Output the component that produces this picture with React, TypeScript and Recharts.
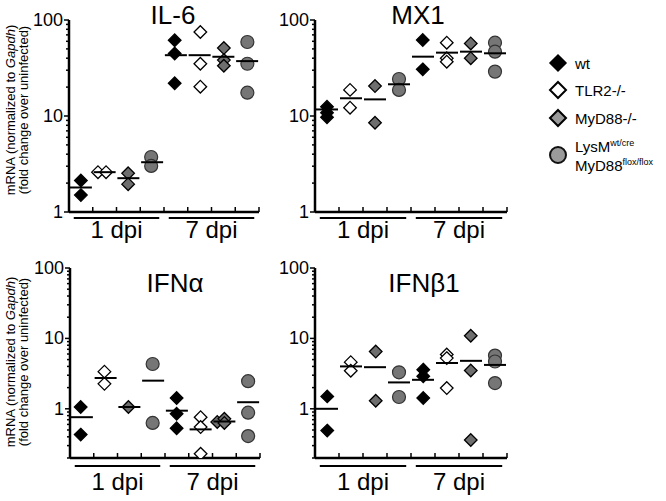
import { ScatterChart, Scatter, XAxis, YAxis } from 'recharts';

const FONT = '"Liberation Sans", Arial, Helvetica, sans-serif';

// x positions are in category units: 0..4 = 1 dpi, 4..8 = 7 dpi, one slot per genotype
const DAYS = ['1 dpi', '7 dpi'];
const X_TICKS = [0, 1, 2, 3, 4, 5, 6, 7, 8];
const MEDIAN_X = [0.5, 1.5, 2.5, 3.5, 4.5, 5.5, 6.5, 7.5];

const Y_TICKS_TOP = [1, 2, 3, 4, 5, 6, 7, 8, 9, 10, 20, 30, 40, 50, 60, 70, 80, 90, 100];
const Y_TICKS_BOTTOM = [
  0.2, 0.3, 0.4, 0.5, 0.6, 0.7, 0.8, 0.9,
  1, 2, 3, 4, 5, 6, 7, 8, 9, 10, 20, 30, 40, 50, 60, 70, 80, 90, 100,
];

// IL-6
const IL6_WT = [[0.5, 2.13], [0.5, 1.5], [4.45, 61.6], [4.45, 44.8], [4.45, 21.9]];
const IL6_TLR2 = [[1.22, 2.6], [1.56, 2.6], [5.53, 75], [5.53, 35], [5.53, 20.2]];
const IL6_MYD88 = [[2.49, 2.53], [2.49, 1.95], [6.52, 51], [6.52, 38.2], [6.52, 33.4]];
const IL6_LYSM = [[3.46, 3.74], [3.46, 3.02], [7.51, 59], [7.51, 35], [7.51, 17.5]];
const IL6_MED = [1.8, 2.6, 2.25, 3.3, 43, 43, 41.4, 37.3];

// MX1
const MX1_WT = [[0.5, 12.5], [0.5, 10.8], [0.5, 9.7], [4.49, 62], [4.49, 30.6]];
const MX1_TLR2 = [[1.46, 18.7], [1.46, 12.2], [5.49, 58], [5.49, 39.9], [5.49, 36.8]];
const MX1_MYD88 = [[2.5, 20.5], [2.5, 8.5], [6.49, 57], [6.49, 40]];
const MX1_LYSM = [[3.5, 24.3], [3.5, 18.7], [7.5, 58], [7.5, 46.8], [7.5, 29]];
const MX1_MED = [11.7, 15.3, 14.9, 21.4, 41.5, 45.7, 46.8, 45];

// IFNa
const IFNA_WT = [[0.45, 1.06], [0.45, 0.43], [4.49, 1.42], [4.49, 0.85], [4.49, 0.53]];
const IFNA_TLR2 = [[1.45, 3.37], [1.45, 2.26], [5.5, 0.76], [5.5, 0.55], [5.5, 0.23]];
const IFNA_MYD88 = [[2.46, 1.06], [6.2, 0.65], [6.5, 0.72], [6.5, 0.63]];
const IFNA_LYSM = [[3.48, 4.33], [3.48, 0.63], [7.5, 2.47], [7.5, 0.88], [7.5, 0.41]];
const IFNA_MED = [0.76, 2.74, 1.06, 2.51, 0.94, 0.51, 0.66, 1.24];

// IFNb1
const IFNB_WT = [[0.51, 1.5], [0.51, 0.49], [4.51, 3.6], [4.51, 2.9], [4.51, 1.42]];
const IFNB_TLR2 = [[1.49, 4.6], [1.49, 3.47], [5.49, 5.9], [5.49, 5.25], [5.49, 1.97]];
const IFNB_MYD88 = [[2.53, 6.5], [2.53, 1.3], [6.49, 10.9], [6.49, 3.5], [6.49, 0.36]];
const IFNB_LYSM = [[3.5, 3.3], [3.5, 1.47], [7.5, 5.7], [7.5, 4.7], [7.5, 2.32]];
const IFNB_MED = [1.0, 4.0, 3.9, 2.37, 2.58, 4.47, 4.8, 4.2];

const toPts = (arr: number[][]) => arr.map(([x, y]) => ({ x, y }));

const Diamond = (fill: string) => (props: any) => {
  const { cx, cy } = props;
  const r = 6.3;
  return (
    <path
      d={`M${cx},${cy - r}L${cx + r},${cy}L${cx},${cy + r}L${cx - r},${cy}Z`}
      fill={fill}
      stroke="#000"
      strokeWidth={1.3}
    />
  );
};

const Dot = (props: any) => (
  <circle cx={props.cx} cy={props.cy} r={6.5} fill="#767676" stroke="#333" strokeWidth={1.2} />
);

const Median = (props: any) => (
  <line x1={props.cx - 11} x2={props.cx + 11} y1={props.cy} y2={props.cy} stroke="#000" strokeWidth={2} />
);

const SHAPES = [Diamond('#000'), Diamond('#fff'), Diamond('#6e6e6e'), Dot];

const YTick = (props: any) => {
  const { x, y, payload } = props;
  const v = payload.value;
  const major = Math.abs(Math.log10(v) - Math.round(Math.log10(v))) < 1e-6;
  return (
    <g>
      <line x1={x - (major ? 5 : 3)} x2={x} y1={y} y2={y} stroke="#000" strokeWidth={1.5} />
      {major && (
        <text x={x - 6} y={y} textAnchor="end" dominantBaseline="central" fontSize={18} fontFamily={FONT} fill="#000">
          {v}
        </text>
      )}
    </g>
  );
};

const XTick = (props: any) => {
  const { x, y, payload, unit, lineDy, textDy } = props;
  const v = payload.value;
  const group = v === 2 ? 0 : v === 6 ? 1 : -1;
  return (
    <g>
      <line x1={x} x2={x} y1={y} y2={y - 5} stroke="#000" strokeWidth={1.5} />
      {group >= 0 && (
        <>
          <line x1={x - 1.8 * unit} x2={x + 1.8 * unit} y1={y + lineDy} y2={y + lineDy} stroke="#000" strokeWidth={2} />
          <text x={x} y={y + textDy} textAnchor="middle" fontSize={24} fontFamily={FONT} fill="#000">
            {DAYS[group]}
          </text>
        </>
      )}
    </g>
  );
};

type PanelProps = {
  left: number;
  top: number;
  width: number;
  height: number;
  yWidth: number;
  mTop: number;
  mRight: number;
  xHeight: number;
  domain: [number, number];
  yTicks: number[];
  series: number[][][];
  medians: number[];
  lineDy: number;
  textDy: number;
};

function Panel(p: PanelProps) {
  const plotW = p.width - p.yWidth - p.mRight;
  const unit = plotW / 8;
  const medData = p.medians.map((y, i) => ({ x: MEDIAN_X[i], y }));
  return (
    <div style={{ position: 'absolute', left: p.left, top: p.top }}>
      <ScatterChart width={p.width} height={p.height} margin={{ top: p.mTop, right: p.mRight, bottom: 0, left: 0 }}>
        <XAxis
          type="number"
          dataKey="x"
          domain={[0, 8]}
          ticks={X_TICKS}
          interval={0}
          allowDataOverflow
          height={p.xHeight}
          tickSize={0}
          tickMargin={0}
          tickLine={false}
          axisLine={{ stroke: '#000', strokeWidth: 2.5 }}
          tick={(t: any) => <XTick {...t} unit={unit} lineDy={p.lineDy} textDy={p.textDy} />}
        />
        <YAxis
          type="number"
          dataKey="y"
          scale="log"
          domain={p.domain}
          ticks={p.yTicks}
          interval={0}
          allowDataOverflow
          width={p.yWidth}
          tickSize={0}
          tickMargin={0}
          tickLine={false}
          axisLine={{ stroke: '#000', strokeWidth: 2.5 }}
          tick={(t: any) => <YTick {...t} />}
        />
        {p.series.map((s, i) => (
          <Scatter key={i} data={toPts(s)} shape={SHAPES[i]} isAnimationActive={false} />
        ))}
        <Scatter data={medData} shape={Median} isAnimationActive={false} />
      </ScatterChart>
    </div>
  );
}

const titleStyle = (x: number, y: number): React.CSSProperties => ({
  position: 'absolute',
  left: x,
  top: y,
  transform: 'translate(-50%, -50%)',
  fontFamily: FONT,
  fontSize: 26,
  lineHeight: 1,
  whiteSpace: 'nowrap',
  color: '#000',
});

function YLabel({ top, cy }: { top: number; cy: number }) {
  return (
    <svg width={40} height={251} style={{ position: 'absolute', left: 0, top }}>
      <text
        transform={`translate(10, ${cy}) rotate(-90)`}
        textAnchor="middle"
        dominantBaseline="central"
        fontSize={13}
        fontFamily={FONT}
      >
        mRNA (normalized to <tspan fontStyle="italic">Gapdh</tspan>)
      </text>
      <text
        transform={`translate(23.5, ${cy}) rotate(-90)`}
        textAnchor="middle"
        dominantBaseline="central"
        fontSize={13}
        fontFamily={FONT}
      >
        (fold change over uninfected)
      </text>
    </svg>
  );
}

const legendText: React.CSSProperties = {
  position: 'absolute',
  left: 575,
  fontFamily: FONT,
  fontSize: 15,
  lineHeight: 1,
  whiteSpace: 'nowrap',
  color: '#000',
};

function Legend() {
  return (
    <>
      <svg width={30} height={130} style={{ position: 'absolute', left: 544, top: 45 }}>
        <path d="M14,10L22,18L14,26L6,18Z" fill="#000" stroke="#000" strokeWidth={1.5} />
        <path d="M14,37L22,45L14,53L6,45Z" fill="#fff" stroke="#000" strokeWidth={2} />
        <path d="M14,65L22,73L14,81L6,73Z" fill="#9a9a9a" stroke="#000" strokeWidth={2} />
        <circle cx={14} cy={110} r={8} fill="#9a9a9a" stroke="#111" strokeWidth={2} />
      </svg>
      <div style={{ ...legendText, top: 63, transform: 'translateY(-50%)' }}>wt</div>
      <div style={{ ...legendText, top: 90, transform: 'translateY(-50%)' }}>TLR2-/-</div>
      <div style={{ ...legendText, top: 118, transform: 'translateY(-50%)' }}>MyD88-/-</div>
      <div style={{ ...legendText, top: 146, transform: 'translateY(-50%)' }}>
        LysM<sup style={{ fontSize: 9 }}>wt/cre</sup>
      </div>
      <div style={{ ...legendText, top: 165, transform: 'translateY(-50%)' }}>
        MyD88<sup style={{ fontSize: 9 }}>flox/flox</sup>
      </div>
    </>
  );
}

export default function App() {
  return (
    <div style={{ position: 'absolute', left: 0, top: 0, width: 666, height: 501, background: '#fff', overflow: 'hidden' }}>
      <Panel
        left={0} top={0} width={330} height={250} yWidth={69} mTop={20} mRight={71} xHeight={38}
        domain={[1, 100]} yTicks={Y_TICKS_TOP}
        series={[IL6_WT, IL6_TLR2, IL6_MYD88, IL6_LYSM]} medians={IL6_MED}
        lineDy={6} textDy={26}
      />
      <Panel
        left={250} top={0} width={270} height={250} yWidth={65} mTop={20} mRight={13} xHeight={38}
        domain={[1, 100]} yTicks={Y_TICKS_TOP}
        series={[MX1_WT, MX1_TLR2, MX1_MYD88, MX1_LYSM]} medians={MX1_MED}
        lineDy={6} textDy={26}
      />
      <Panel
        left={0} top={250} width={330} height={251} yWidth={70} mTop={18} mRight={70} xHeight={43}
        domain={[0.2, 100]} yTicks={Y_TICKS_BOTTOM}
        series={[IFNA_WT, IFNA_TLR2, IFNA_MYD88, IFNA_LYSM]} medians={IFNA_MED}
        lineDy={8} textDy={32}
      />
      <Panel
        left={250} top={250} width={270} height={251} yWidth={65} mTop={18} mRight={13} xHeight={43}
        domain={[0.2, 100]} yTicks={Y_TICKS_BOTTOM}
        series={[IFNB_WT, IFNB_TLR2, IFNB_MYD88, IFNB_LYSM]} medians={IFNB_MED}
        lineDy={8} textDy={32}
      />
      <div style={titleStyle(173, 15)}>IL-6</div>
      <div style={titleStyle(418, 15)}>MX1</div>
      <div style={titleStyle(175, 283)}>IFNα</div>
      <div style={titleStyle(424, 283)}>IFNβ1</div>
      <YLabel top={0} cy={110} />
      <YLabel top={250} cy={112} />
      <Legend />
    </div>
  );
}
